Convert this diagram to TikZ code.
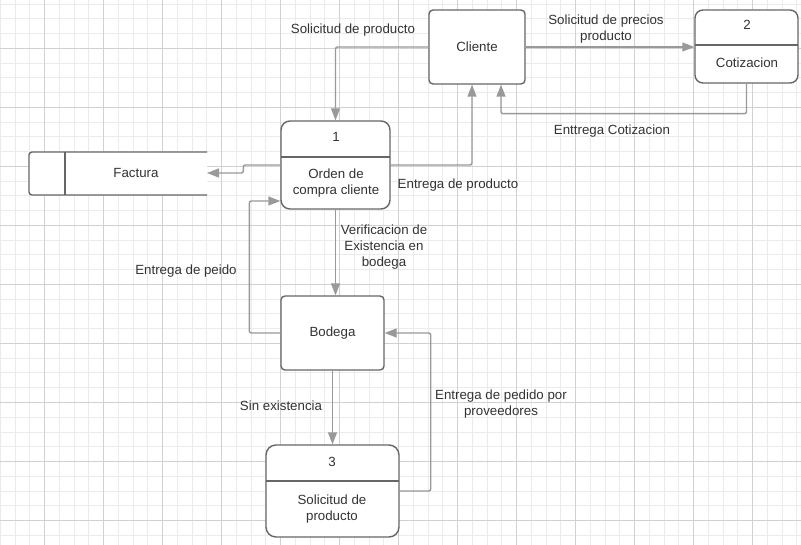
\documentclass[tikz,border=0pt]{standalone}
\usepackage{fontspec}
\setmainfont{Liberation Sans}
\usetikzlibrary{arrows.meta}
\definecolor{boxgray}{RGB}{102,102,102}
\definecolor{flowgray}{RGB}{153,153,153}
\definecolor{textgray}{RGB}{51,51,51}

\begin{document}
\begin{tikzpicture}[x=1pt,y=1pt,yscale=-1,xscale=1,
  process/.style={draw=boxgray,line width=1.4pt,fill=white,inner sep=0pt},
  divider/.style={draw=boxgray,line width=1.4pt},
  flow/.style={draw=flowgray,line width=1.4pt,rounded corners=2pt,-{Triangle[length=12pt,width=9pt]}},
  lbl/.style={text=textgray,font=\fontsize{13.3}{16}\selectfont,inner sep=0.75pt,align=center},
  gridminor/.style={draw=black!8,line width=0.6pt},
  gridmajor/.style={draw=black!18,line width=0.8pt}]
\useasboundingbox (0,0) rectangle (801,545);
\fill[white] (0,0) rectangle (801,545);

%Grid
\foreach \gx in {0,...,54} \draw[gridminor] ({0.05+14.75*\gx},0) -- ({0.05+14.75*\gx},545);
\foreach \gy in {0,...,36} \draw[gridminor] (0,{4.05+14.75*\gy}) -- (801,{4.05+14.75*\gy});
\foreach \gx in {0,...,12} \draw[gridmajor] ({44.3+59*\gx},0) -- ({44.3+59*\gx},545);
\foreach \gy in {0,...,8} \draw[gridmajor] (0,{48.3+59*\gy}) -- (801,{48.3+59*\gy});

%Shape: Rectangle [cliente]
\node[process,rounded corners=4pt,minimum width=96pt,minimum height=74pt,lbl] (cliente) at (477,47) {Cliente};
%Shape: Process [proc2]
\node[process,rounded corners=8pt,minimum width=103pt,minimum height=73pt] (proc2) at (746.5,46.5) {};
\draw[divider] (695,45) -- (798,45);
%Shape: Process [proc1]
\node[process,rounded corners=9pt,minimum width=109pt,minimum height=88pt] (proc1) at (335.5,165) {};
\draw[divider] (281,157) -- (390,157);
%Shape: Data store [factura]
\draw[process,rounded corners=3pt] (207,152) -- (29,152) -- (29,195) -- (207,195);
\draw[divider] (65,152) -- (65,195);
\coordinate (facturain) at (207,173);
%Shape: Rectangle [bodega]
\node[process,rounded corners=4pt,minimum width=103pt,minimum height=74pt,lbl] (bodega) at (332.5,333) {Bodega};
%Shape: Process [proc3]
\node[process,rounded corners=10pt,minimum width=133pt,minimum height=92pt] (proc3) at (332.5,491) {};
\draw[divider] (266,481) -- (399,481);

% Text Node
\node[lbl] (cotnum) at (747,25) {2};
\node[lbl] (cottxt) at (747,63) {Cotizacion};
\node[lbl] (ordnum) at (336,137) {1};
\node[lbl] (ordtxt) at (336,183) {Orden de\\compra cliente};
\node[lbl] (factura) at (136,173) {Factura};
\node[lbl] (solnum) at (332,462) {3};
\node[lbl] (soltxt) at (332,509) {Solicitud de\\producto};

%Connectors
\draw[flow] (cliente.west) -| (proc1.north);
\draw[flow] (cliente.east) -- (cliente.east -| proc2.west);
\draw[flow] (proc2.south) -- ++(0,30) -| ([xshift=24pt]cliente.south);
\draw[flow] (proc1.east) -| ([xshift=-5pt]cliente.south);
\draw[flow] (proc1.west) -- ++(-37,0) |- (facturain);
\draw[flow] (proc1.south) -- (proc1.south |- bodega.north);
\draw[flow] (bodega.west) -- ++(-31,0) |- ([yshift=36pt]proc1.west);
\draw[flow] (bodega.south) -- (proc3.north);
\draw[flow] (proc3.east) -- ++(31,0) |- (bodega.east);

% Text Node
\node[lbl] (lsolprod) at (353,30) {Solicitud de producto};
\node[lbl] (lsolprec) at (606,29) {Solicitud de precios\\producto};
\node[lbl] (lentcot) at (612,131) {Enttrega Cotizacion};
\node[lbl] (lentprod) at (458,185) {Entrega de producto};
\node[lbl] (lverif) at (384,247) {Verificacion de\\Existencia en\\bodega};
\node[lbl] (lpeido) at (186,271) {Entrega de peido};
\node[lbl] (lsinex) at (281,406) {Sin existencia};
\node[lbl] (lprov) at (501,404) {Entrega de pedido por\\proveedores};

\end{tikzpicture}
\end{document}
